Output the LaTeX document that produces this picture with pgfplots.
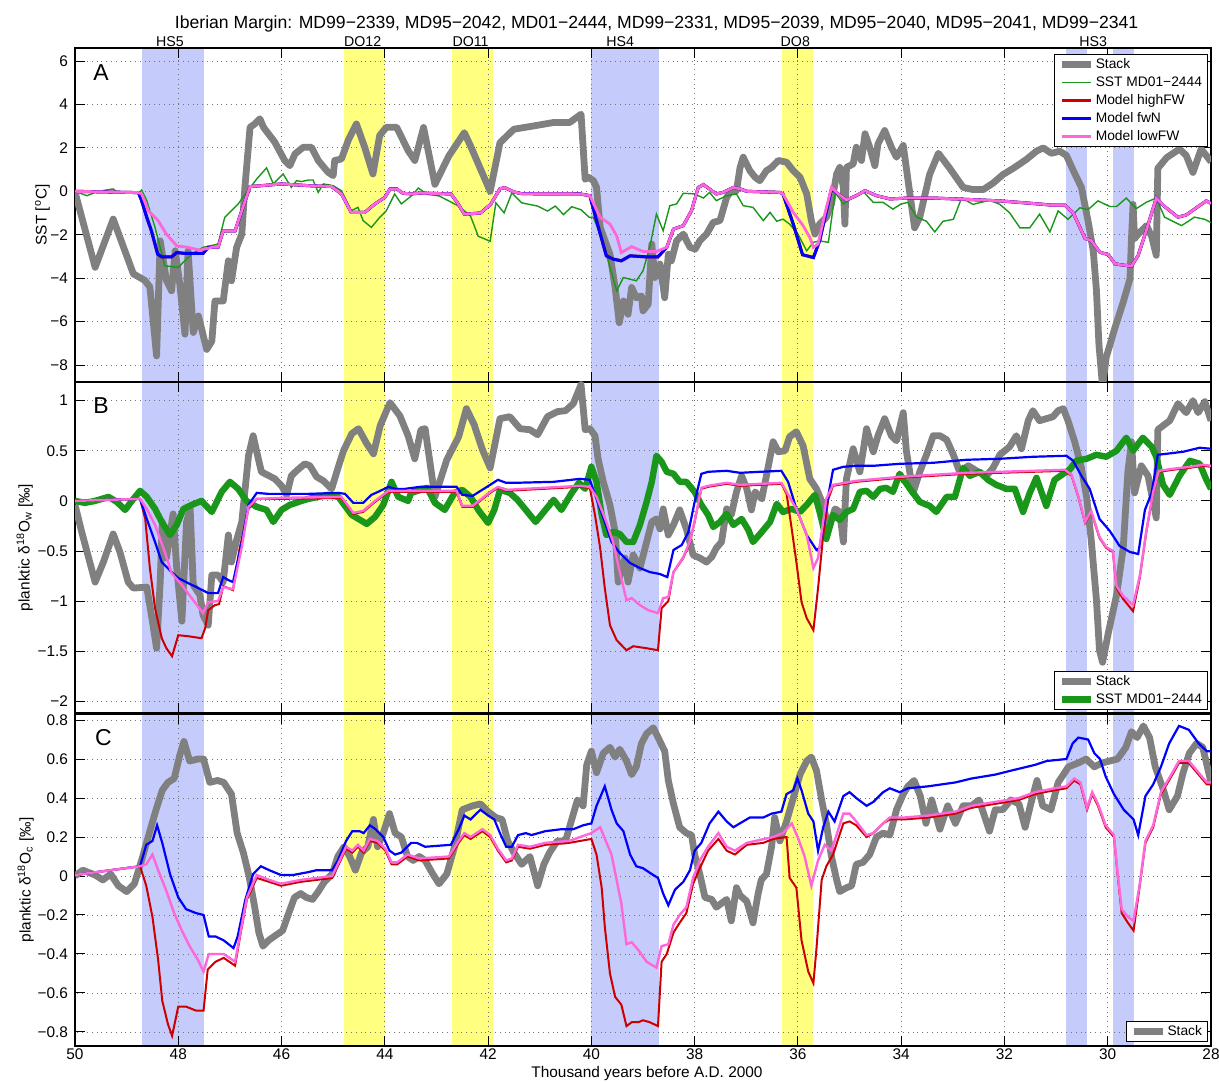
\documentclass[border=0pt]{standalone}
\usepackage{fontspec}
\setmainfont{Liberation Sans}
\usepackage{pgfplots}
\pgfplotsset{compat=1.18}
\definecolor{stk}{RGB}{128,128,128}
\definecolor{sstg}{RGB}{26,150,26}
\definecolor{mred}{RGB}{204,0,0}
\definecolor{mblue}{RGB}{0,0,255}
\definecolor{mpink}{RGB}{255,102,217}
\definecolor{bandblue}{RGB}{197,203,250}
\definecolor{bandyel}{RGB}{255,255,128}
\pgfplotsset{
 set layers,
 panel/.style={
  scale only axis, width=568pt,
  x dir=reverse, xmin=28, xmax=50,
  xtick={28,30,32,34,36,38,40,42,44,46,48,50},
  grid=major,
  major grid style={dotted, black!55, line width=0.45pt},
  tick align=inside, major tick length=5pt,
  tick style={black, line width=0.5pt},
  axis line style={black, line width=0.6pt},
  tick label style={font=\fontsize{7.7}{9}\selectfont},
  xticklabel style={inner sep=1.2pt},
  clip mode=individual,
  legend cell align=left,
  legend image code/.code={\draw[##1] (0pt,0pt) -- (14.5pt,0pt);},
  legend style={font=\fontsize{6.9}{8}\selectfont, draw=black, line width=0.5pt, fill=white,
    inner xsep=2pt, inner ysep=1pt, row sep=1pt,
    nodes={inner sep=0.6pt, text height=5.2pt, text depth=1.6pt}},
 },
}
\newcommand{\bands}[2]{%
 \addplot[fill=bandblue, draw=none, forget plot, on layer=axis background] coordinates {(48.7,#1) (47.5,#1) (47.5,#2) (48.7,#2)};
 \addplot[fill=bandyel, draw=none, forget plot, on layer=axis background] coordinates {(44.8,#1) (44.0,#1) (44.0,#2) (44.8,#2)};
 \addplot[fill=bandyel, draw=none, forget plot, on layer=axis background] coordinates {(42.7,#1) (41.9,#1) (41.9,#2) (42.7,#2)};
 \addplot[fill=bandblue, draw=none, forget plot, on layer=axis background] coordinates {(40.0,#1) (38.7,#1) (38.7,#2) (40.0,#2)};
 \addplot[fill=bandyel, draw=none, forget plot, on layer=axis background] coordinates {(36.3,#1) (35.7,#1) (35.7,#2) (36.3,#2)};
 \addplot[fill=bandblue, draw=none, forget plot, on layer=axis background] coordinates {(30.8,#1) (30.4,#1) (30.4,#2) (30.8,#2)};
 \addplot[fill=bandblue, draw=none, forget plot, on layer=axis background] coordinates {(29.9,#1) (29.5,#1) (29.5,#2) (29.9,#2)};
}
\begin{document}
\begin{tikzpicture}
% ================= Panel A =================
\begin{axis}[panel, at={(37.5pt,349.5pt)}, anchor=south west, height=167pt,
  ymin=-8.78, ymax=6.6,
  ytick={-8,-6,-4,-2,0,2,4,6}, yticklabels={−8,−6,−4,−2,0,2,4,6},
  xticklabels={},
  ylabel={SST [\textsuperscript{o}C]},
  ylabel style={at={(axis description cs:-0.0286,0.5)}, anchor=center, font=\fontsize{7.7}{9}\selectfont},
  legend style={at={(axis description cs:1,1)}, anchor=north east, xshift=-1.65pt, yshift=-3.1pt},
]
\bands{-10}{8}
\addplot[stk, line width=3.4pt, line join=round] coordinates {
(50,0) (49.97,-0.3) (49.61,-3.5) (49.26,-1.28) (48.87,-3.8) (48.65,-4.1) (48.55,-4.4) (48.42,-7.58) (48.35,-2.28) (48.23,-4.1) (48.13,-4.58) (48.06,-2.74) (47.97,-4.28) (47.87,-6.58) (47.81,-2.74) (47.71,-6.5) (47.61,-5.74) (47.45,-7.28) (47.35,-6.9) (47.29,-5.05) (47.13,-5.05) (47.03,-3.2) (46.97,-4.12) (46.87,-2.58) (46.77,-1.97) (46.71,0.18) (46.61,2.95) (46.52,3.1) (46.42,3.34) (46.35,2.95) (46.13,2.26) (45.94,1.42) (45.84,1.18) (45.74,1.72) (45.58,2.03) (45.42,2.03) (45.29,1.42) (45.1,0.88) (45.0,0.72) (44.97,1.42) (44.84,1.49) (44.71,2.34) (44.55,3.1) (44.39,2.03) (44.23,0.8) (44.1,2.57) (43.97,2.95) (43.77,2.95) (43.55,1.88) (43.42,1.42) (43.35,2.03) (43.25,2.94) (43.03,0.32) (42.76,1.63) (42.46,2.7) (42.34,2.09) (41.96,0.0) (41.77,2.24) (41.5,2.86) (41.12,3.01) (40.73,3.17) (40.42,3.17) (40.2,3.55) (40.12,0.55) (40.06,0.65) (39.96,0.49) (39.9,0.18) (39.83,-1.66) (39.64,-2.9) (39.54,-4.43) (39.46,-6.05) (39.38,-5.05) (39.29,-5.66) (39.22,-4.43) (39.13,-4.9) (39.03,-4.82) (39.0,-5.5) (38.9,-5.2) (38.83,-2.43) (38.77,-3.97) (38.67,-3.35) (38.58,-4.9) (38.51,-2.9) (38.45,-3.2) (38.35,-2.28) (38.22,-1.97) (38.09,-2.58) (37.99,-2.66) (37.9,-2.28) (37.77,-1.97) (37.64,-1.43) (37.51,-1.35) (37.38,-0.28) (37.29,0.03) (37.19,0.03) (37.12,1.1) (37.06,1.57) (36.93,0.95) (36.83,0.65) (36.74,0.49) (36.61,0.95) (36.51,1.1) (36.38,1.42) (36.22,1.34) (36.09,0.95) (35.96,0.65) (35.83,-0.12) (35.74,-1.35) (35.67,-1.97) (35.58,-1.51) (35.45,-1.2) (35.35,-0.58) (35.25,0.8) (35.19,1.1) (35.12,0.18) (35.09,-1.51) (35.06,1.1) (34.93,1.26) (34.87,2.03) (34.77,1.42) (34.7,2.65) (34.61,2.03) (34.51,1.18) (34.45,2.18) (34.32,2.8) (34.19,2.03) (34.09,1.57) (33.96,2.11) (33.85,0.2) (33.74,-1.68) (33.64,-1.19) (33.45,0.77) (33.28,1.75) (33.06,1.06) (32.8,0.18) (32.61,0.08) (32.41,0.08) (32.22,0.38) (32.03,0.77) (31.83,1.06) (31.58,1.46) (31.38,1.85) (31.25,2.0) (31.09,1.75) (30.93,1.85) (30.8,1.65) (30.67,0.97) (30.51,0.18) (30.38,-1.38) (30.28,-2.76) (30.22,-4.52) (30.17,-7.07) (30.1,-9.0) (30.03,-7.65) (29.86,-6.28) (29.7,-5.1) (29.57,-4.03) (29.54,-2.17) (29.51,-0.6) (29.48,-2.17) (29.41,-1.97) (29.25,-1.58) (29.15,-2.07) (29.06,-2.95) (29.03,1.06) (28.86,1.55) (28.61,1.95) (28.48,1.65) (28.35,0.87) (28.19,1.95) (28.0,1.36)
};
\addlegendentry{Stack}
\addplot[sstg, line width=0.7pt] coordinates {
(50,0) (49.77,-0.2) (49.55,0) (49.26,0.11) (49.16,-0.08) (48.77,-0.09) (48.71,0.06) (48.61,-0.43) (48.45,-1.66) (48.26,-3.43) (48.0,-3.5) (47.74,-2.89) (47.52,-2.58) (47.23,-2.43) (47.1,-1.2) (46.84,-0.58) (46.65,0.03) (46.48,0.57) (46.29,1.08) (46.16,0.34) (45.97,0.8) (45.81,0.18) (45.71,0.49) (45.61,0.45) (45.48,0.52) (45.39,0.52) (45.29,-0.05) (45.19,0.34) (45.0,0.26) (44.84,0.03) (44.65,-0.89) (44.52,-0.74) (44.42,-1.35) (44.26,-1.66) (44.1,-1.2) (43.97,-0.89) (43.81,-0.12) (43.68,-0.58) (43.48,-0.2) (43.35,0.15) (43.18,-0.14) (42.95,-0.21) (42.69,-0.53) (42.57,-0.68) (42.34,-1.14) (42.19,-2.07) (41.96,-2.3) (41.85,-0.53) (41.69,-0.99) (41.54,-0.07) (41.35,-0.53) (41.04,-0.68) (40.85,-0.91) (40.7,-0.68) (40.54,-1.07) (40.38,-0.71) (40.2,-0.85) (40.04,-1.2) (39.96,-1.2) (39.83,-1.97) (39.71,-2.89) (39.51,-4.58) (39.38,-3.97) (39.13,-4.12) (39.0,-3.66) (38.87,-2.58) (38.74,-1.05) (38.61,-1.82) (38.48,-0.66) (38.35,-0.58) (38.22,-0.09) (38.0,-0.12) (37.83,-0.31) (37.71,-0.05) (37.58,-0.43) (37.38,-0.2) (37.19,-0.12) (37.06,-0.66) (36.87,-0.74) (36.67,-1.35) (36.54,-0.97) (36.41,-1.38) (36.29,-1.28) (36.16,-1.51) (36.0,-1.97) (35.83,-2.74) (35.7,-2.35) (35.58,-2.28) (35.41,-2.35) (35.28,-0.05) (35.12,-0.58) (34.93,-0.28) (34.74,0.0) (34.54,-0.51) (34.35,-0.51) (34.16,-0.82) (34.0,-0.58) (33.87,-0.51) (33.7,-1.19) (33.51,-1.38) (33.35,-1.87) (33.19,-1.38) (32.99,-1.29) (32.83,-0.31) (32.61,-0.6) (32.28,-0.41) (32.09,-0.6) (31.9,-0.99) (31.7,-1.68) (31.51,-1.68) (31.32,-1.05) (31.12,-1.87) (30.96,-0.9) (30.77,-1.29) (30.54,-0.76) (30.38,-0.84) (30.19,-0.44) (29.96,-0.7) (29.83,-0.7) (29.64,-0.31) (29.45,-0.8) (29.25,-0.5) (29.06,-0.31) (28.9,-1.19) (28.57,-1.58) (28.32,-1.19) (28.12,-1.29) (28.0,-1.44)
};
\addlegendentry{SST MD01−2444}
\addplot[mred, line width=1.5pt] coordinates {
(50,0) (48.77,-0.06) (48.71,-0.43) (48.61,-1.2) (48.52,-1.82) (48.4,-2.89) (48.32,-3.02) (48.13,-3.02) (48.03,-2.82) (47.87,-2.86) (47.52,-2.86) (47.42,-2.58) (47.23,-2.58) (47.13,-1.82) (46.9,-1.82) (46.77,-0.89) (46.61,0.22) (46.39,0.26) (46.0,0.34) (45.48,0.26) (45.03,0.22) (44.84,-0.12) (44.65,-0.97) (44.39,-0.97) (44.19,-0.58) (44.0,-0.28) (43.9,0.11) (43.77,0.11) (43.65,-0.09) (43.48,-0.12) (43.32,-0.08) (42.72,-0.12) (42.6,-0.5) (42.46,-1.05) (42.15,-1.0) (41.95,-0.6) (41.85,-0.2) (41.77,0.12) (41.68,0.17) (41.5,-0.03) (41.35,-0.11) (40.22,-0.12) (40.03,-0.2) (39.9,-1.35) (39.71,-2.97) (39.58,-3.12) (39.42,-3.2) (39.25,-2.97) (38.93,-3.02) (38.71,-3.02) (38.54,-2.58) (38.41,-1.74) (38.22,-1.58) (38.06,-0.89) (37.93,0.18) (37.83,0.31) (37.58,-0.12) (37.45,-0.05) (37.25,0.18) (37.12,0.11) (36.99,0) (36.35,-0.05) (36.29,-0.12) (36.09,-1.51) (35.91,-2.92) (35.7,-3.05) (35.58,-2.28) (35.35,0.11) (35.22,-0.12) (35.06,-0.4) (34.87,-0.2) (34.7,0.03) (34.48,-0.2) (34.22,-0.35) (33.87,-0.31) (33.38,-0.31) (32.74,-0.37) (32.09,-0.44) (31.45,-0.56) (31.06,-0.64) (30.83,-0.64) (30.67,-0.99) (30.44,-2.17) (30.32,-2.27) (30.15,-2.81) (29.99,-2.91) (29.86,-3.34) (29.7,-3.4) (29.54,-3.44) (29.41,-2.95) (29.25,-1.78) (29.06,-0.31) (28.9,-0.7) (28.64,-1.19) (28.48,-1.09) (28.25,-0.7) (28.09,-0.44) (28.0,-0.56)
};
\addlegendentry{Model highFW}
\addplot[mblue, line width=1.5pt] coordinates {
(50,0) (48.77,-0.06) (48.71,-0.43) (48.61,-1.2) (48.52,-1.82) (48.4,-2.89) (48.32,-3.02) (48.13,-3.02) (48.03,-2.82) (47.87,-2.86) (47.52,-2.86) (47.42,-2.58) (47.23,-2.58) (47.13,-1.82) (46.9,-1.82) (46.77,-0.89) (46.61,0.22) (46.39,0.26) (46.0,0.34) (45.48,0.26) (45.03,0.22) (44.84,-0.12) (44.65,-0.97) (44.39,-0.97) (44.19,-0.58) (44.0,-0.28) (43.9,0.11) (43.77,0.11) (43.65,-0.09) (43.48,-0.12) (43.32,-0.08) (42.72,-0.12) (42.6,-0.5) (42.46,-1.05) (42.15,-1.0) (41.95,-0.6) (41.85,-0.2) (41.77,0.12) (41.68,0.17) (41.5,-0.03) (41.35,-0.11) (40.22,-0.12) (40.03,-0.2) (39.9,-1.35) (39.71,-2.97) (39.58,-3.12) (39.42,-3.2) (39.25,-2.97) (38.93,-3.02) (38.71,-3.02) (38.54,-2.58) (38.41,-1.74) (38.22,-1.58) (38.06,-0.89) (37.93,0.18) (37.83,0.31) (37.58,-0.12) (37.45,-0.05) (37.25,0.18) (37.12,0.11) (36.99,0) (36.35,-0.05) (36.29,-0.12) (36.09,-1.51) (35.91,-2.92) (35.7,-3.05) (35.58,-2.28) (35.35,0.11) (35.22,-0.12) (35.06,-0.4) (34.87,-0.2) (34.7,0.03) (34.48,-0.2) (34.22,-0.35) (33.87,-0.31) (33.38,-0.31) (32.74,-0.37) (32.09,-0.44) (31.45,-0.56) (31.06,-0.64) (30.83,-0.64) (30.67,-0.99) (30.44,-2.17) (30.32,-2.27) (30.15,-2.81) (29.99,-2.91) (29.86,-3.34) (29.7,-3.4) (29.54,-3.44) (29.41,-2.95) (29.25,-1.78) (29.06,-0.31) (28.9,-0.7) (28.64,-1.19) (28.48,-1.09) (28.25,-0.7) (28.09,-0.44) (28.0,-0.56)
};
\addlegendentry{Model fwN}
\addplot[mpink, line width=1.4pt] coordinates {
(50,0) (48.77,-0.06) (48.71,-0.12) (48.58,-0.89) (48.39,-1.35) (48.23,-1.97) (48.03,-2.51) (47.81,-2.58) (47.58,-2.71) (47.35,-2.58) (47.23,-2.58) (47.13,-1.82) (46.9,-1.82) (46.77,-0.89) (46.61,0.22) (46.39,0.26) (46.0,0.34) (45.48,0.26) (45.03,0.22) (44.84,-0.12) (44.65,-0.97) (44.39,-0.97) (44.19,-0.58) (44.0,-0.28) (43.9,0.11) (43.77,0.11) (43.65,-0.09) (43.48,-0.12) (43.32,-0.08) (42.72,-0.12) (42.6,-0.5) (42.46,-1.05) (42.15,-1.0) (41.95,-0.6) (41.85,-0.2) (41.77,0.12) (41.68,0.17) (41.5,-0.03) (41.35,-0.11) (40.22,-0.12) (40.03,-0.2) (39.83,-1.2) (39.64,-1.51) (39.51,-2.05) (39.42,-2.82) (39.22,-2.55) (39.0,-2.77) (38.74,-2.77) (38.54,-2.58) (38.41,-1.74) (38.22,-1.58) (38.06,-0.89) (37.93,0.18) (37.83,0.31) (37.58,-0.12) (37.45,-0.05) (37.25,0.18) (37.12,0.11) (36.99,0) (36.35,-0.05) (36.29,-0.12) (36.09,-0.97) (35.9,-1.58) (35.77,-2.12) (35.7,-2.58) (35.61,-2.43) (35.48,-1.05) (35.35,0.18) (35.22,-0.12) (35.06,-0.4) (34.87,-0.2) (34.7,0.03) (34.48,-0.2) (34.22,-0.35) (33.87,-0.31) (33.38,-0.31) (32.74,-0.37) (32.09,-0.44) (31.45,-0.56) (31.06,-0.64) (30.83,-0.64) (30.67,-0.99) (30.44,-2.17) (30.32,-2.27) (30.15,-2.81) (29.99,-2.91) (29.86,-3.34) (29.7,-3.4) (29.54,-3.44) (29.41,-2.95) (29.25,-1.78) (29.06,-0.31) (28.9,-0.7) (28.64,-1.19) (28.48,-1.09) (28.25,-0.7) (28.09,-0.44) (28.0,-0.56)
};
\addlegendentry{Model lowFW}
\node[font=\fontsize{11.5}{12}\selectfont] at (axis description cs:0.023,0.925) {A};
\node[font=\fontsize{7.1}{8}\selectfont, anchor=base, yshift=0.9pt] at (axis cs:48.16,6.6) {HS5};
\node[font=\fontsize{7.1}{8}\selectfont, anchor=base, yshift=0.9pt] at (axis cs:44.43,6.6) {DO12};
\node[font=\fontsize{7.1}{8}\selectfont, anchor=base, yshift=0.9pt] at (axis cs:42.34,6.6) {DO11};
\node[font=\fontsize{7.1}{8}\selectfont, anchor=base, yshift=0.9pt] at (axis cs:39.44,6.6) {HS4};
\node[font=\fontsize{7.1}{8}\selectfont, anchor=base, yshift=0.9pt] at (axis cs:36.05,6.6) {DO8};
\node[font=\fontsize{7.1}{8}\selectfont, anchor=base, yshift=0.9pt] at (axis cs:30.28,6.6) {HS3};
\node[font=\fontsize{8.8}{10}\selectfont, anchor=base, yshift=9.75pt] at (axis description cs:0.512,1) {Iberian Margin: MD99−2339, MD95−2042, MD01−2444, MD99−2331, MD95−2039, MD95−2040, MD95−2041, MD99−2341};
\end{axis}
% ================= Panel B =================
\begin{axis}[panel, at={(37.5pt,184pt)}, anchor=south west, height=165.5pt,
  ymin=-2.116, ymax=1.186,
  ytick={-2,-1.5,-1,-0.5,0,0.5,1}, yticklabels={−2,−1.5,−1,−0.5,0,0.5,1},
  xticklabels={},
  ylabel={planktic δ\textsuperscript{18}O\textsubscript{w} [‰]},
  ylabel style={at={(axis description cs:-0.0443,0.5)}, anchor=center, font=\fontsize{7.7}{9}\selectfont},
  legend style={at={(axis description cs:1,0)}, anchor=south east, xshift=-1.65pt, yshift=1.5pt},
]
\bands{-3}{2}
\addplot[stk, line width=3.4pt, line join=round] coordinates {
(50,-0.04) (49.87,-0.31) (49.61,-0.81) (49.45,-0.61) (49.26,-0.33) (49.13,-0.51) (48.97,-0.81) (48.87,-0.87) (48.61,-0.86) (48.52,-1.14) (48.42,-1.47) (48.35,-0.81) (48.31,-0.21) (48.23,-0.57) (48.1,-0.13) (48.03,-0.67) (47.93,-1.2) (47.84,-0.21) (47.77,-0.08) (47.71,-0.84) (47.58,-0.94) (47.52,-1.14) (47.42,-1.24) (47.35,-0.74) (47.23,-0.74) (47.13,-0.81) (47.03,-0.34) (46.97,-0.61) (46.87,-0.39) (46.77,-0.21) (46.64,0.45) (46.55,0.65) (46.45,0.42) (46.39,0.29) (46.13,0.22) (46.0,0.15) (45.9,0.06) (45.81,0.25) (45.71,0.3) (45.55,0.37) (45.45,0.35) (45.32,0.24) (45.19,0.2) (45.03,0.12) (44.9,0.34) (44.8,0.5) (44.64,0.67) (44.51,0.72) (44.35,0.57) (44.22,0.47) (44.09,0.75) (43.9,0.98) (43.71,0.85) (43.55,0.65) (43.42,0.42) (43.3,0.71) (43.22,0.72) (43.03,0.04) (42.8,0.41) (42.57,0.64) (42.42,0.92) (42.27,0.76) (42.11,0.51) (41.96,0.33) (41.77,0.82) (41.58,0.84) (41.38,0.72) (41.19,0.71) (41.04,0.66) (40.85,0.84) (40.66,0.89) (40.5,0.9) (40.35,0.97) (40.2,1.16) (40.12,0.71) (40.03,0.72) (39.93,0.65) (39.87,0.42) (39.77,0.19) (39.64,-0.04) (39.54,-0.31) (39.48,-0.81) (39.35,-0.57) (39.29,-0.81) (39.19,-0.54) (39.06,-0.67) (38.93,-0.41) (38.83,-0.21) (38.74,-0.18) (38.67,-0.28) (38.61,-0.08) (38.51,-0.34) (38.41,-0.24) (38.29,-0.09) (38.16,-0.28) (38.03,-0.54) (37.9,-0.57) (37.77,-0.61) (37.67,-0.56) (37.58,-0.47) (37.48,-0.41) (37.38,-0.08) (37.29,-0.14) (37.19,0.09) (37.09,0.25) (36.99,0.12) (36.9,-0.09) (36.83,0.09) (36.7,0.02) (36.61,0.25) (36.48,0.59) (36.38,0.49) (36.25,0.5) (36.16,0.64) (36.03,0.69) (35.9,0.55) (35.77,0.22) (35.64,0.12) (35.51,-0.04) (35.41,-0.28) (35.28,-0.08) (35.19,-0.11) (35.12,-0.41) (35.06,0.22) (34.93,0.52) (34.8,0.29) (34.67,0.72) (34.54,0.49) (34.45,0.65) (34.32,0.82) (34.19,0.65) (34.09,0.6) (33.96,0.88) (33.9,0.5) (33.77,0.08) (33.64,0.29) (33.51,0.46) (33.38,0.65) (33.25,0.65) (33.12,0.61) (32.99,0.46) (32.87,0.29) (32.7,0.35) (32.51,0.29) (32.35,0.25) (32.22,0.33) (32.09,0.46) (31.9,0.54) (31.77,0.65) (31.67,0.52) (31.54,0.8) (31.45,0.9) (31.32,0.8) (31.19,0.82) (31.06,0.84) (30.96,0.9) (30.86,0.92) (30.77,0.8) (30.64,0.59) (30.51,0.33) (30.41,0.04) (30.32,-0.39) (30.22,-0.98) (30.16,-1.49) (30.1,-1.61) (29.99,-1.32) (29.83,-0.94) (29.7,-0.47) (29.61,0.29) (29.54,0.59) (29.48,0.08) (29.35,0.35) (29.22,0.25) (29.06,-0.17) (29.03,0.71) (28.93,0.75) (28.8,0.8) (28.64,0.97) (28.48,0.88) (28.35,1.0) (28.25,0.88) (28.12,0.99) (28.0,0.8)
};
\addlegendentry{Stack}
\addplot[sstg, line width=3.2pt, line join=round] coordinates {
(50,0) (49.81,-0.02) (49.61,0.0) (49.35,0.04) (49.19,-0.01) (49.03,-0.09) (48.9,0.0) (48.74,0.1) (48.61,0.04) (48.45,-0.08) (48.32,-0.21) (48.16,-0.34) (48.03,-0.24) (47.9,-0.08) (47.74,-0.04) (47.55,0.0) (47.35,-0.11) (47.16,0.09) (47.0,0.19) (46.84,0.12) (46.68,0.0) (46.48,-0.06) (46.29,-0.09) (46.16,-0.21) (46.0,-0.09) (45.84,-0.04) (45.61,0.0) (45.48,0.02) (45.29,0.04) (45.1,0.06) (44.9,0.04) (44.8,-0.03) (44.64,-0.14) (44.51,-0.18) (44.35,-0.23) (44.19,-0.16) (44.03,-0.04) (43.87,0.19) (43.74,0.04) (43.55,0.0) (43.49,0.08) (43.18,0.13) (43.03,-0.02) (42.84,-0.09) (42.65,0.08) (42.5,0.11) (42.34,0.04) (42.19,-0.09) (42.0,-0.22) (41.88,-0.09) (41.77,0.11) (41.58,0.08) (41.43,0.01) (41.27,-0.09) (41.08,-0.21) (40.89,-0.09) (40.73,0.01) (40.58,-0.09) (40.38,0.08) (40.24,0.18) (40.12,0.12) (40.0,0.34) (39.9,0.19) (39.8,-0.14) (39.71,-0.34) (39.58,-0.31) (39.45,-0.33) (39.32,-0.41) (39.19,-0.41) (39.06,-0.24) (38.93,-0.01) (38.83,0.19) (38.74,0.45) (38.64,0.39) (38.54,0.29) (38.41,0.27) (38.29,0.19) (38.16,0.19) (38.0,0.09) (37.87,-0.04) (37.74,-0.14) (37.64,-0.26) (37.51,-0.21) (37.38,-0.13) (37.25,-0.24) (37.09,-0.18) (36.96,-0.29) (36.87,-0.41) (36.7,-0.31) (36.54,-0.21) (36.41,-0.03) (36.29,-0.11) (36.12,-0.08) (35.96,-0.11) (35.83,-0.04) (35.67,0.06) (35.58,-0.11) (35.45,-0.38) (35.32,-0.14) (35.19,-0.19) (35.06,-0.11) (34.93,-0.08) (34.8,0.09) (34.67,0.1) (34.54,0.04) (34.41,0.12) (34.29,0.13) (34.16,0.09) (34.03,0.27) (33.83,0.12) (33.64,-0.01) (33.45,-0.05) (33.32,-0.11) (33.12,0.04) (32.96,0.04) (32.8,0.33) (32.67,0.25) (32.48,0.29) (32.32,0.21) (32.16,0.16) (31.96,0.12) (31.8,0.12) (31.64,-0.11) (31.51,0.08) (31.38,0.23) (31.19,-0.05) (31.03,0.21) (30.86,0.27) (30.74,0.31) (30.61,0.4) (30.41,0.42) (30.22,0.46) (30.03,0.44) (29.83,0.5) (29.64,0.63) (29.51,0.5) (29.32,0.63) (29.15,0.54) (29.06,0.44) (28.93,0.16) (28.8,0.06) (28.61,0.25) (28.41,0.4) (28.22,0.37) (28.09,0.21) (28.0,0.12)
};
\addlegendentry{SST MD01−2444}
\addplot[mred, line width=1pt, forget plot] coordinates {
(50,0) (48.74,0.02) (48.64,-0.18) (48.55,-0.67) (48.45,-1.07) (48.32,-1.37) (48.23,-1.47) (48.12,-1.55) (48.0,-1.34) (47.81,-1.35) (47.55,-1.37) (47.48,-1.27) (47.42,-1.09) (47.29,-1.04) (47.21,-1.03) (47.13,-0.85) (46.94,-0.89) (46.81,-0.47) (46.64,-0.08) (46.48,0.02) (46.0,0.02) (44.84,0.03) (44.61,-0.13) (44.42,-0.11) (44.19,-0.01) (43.93,0.09) (42.61,0.09) (42.5,-0.06) (42.3,-0.06) (41.96,0.08) (41.81,0.13) (41.65,0.1) (40.22,0.14) (40.03,0.13) (39.93,-0.14) (39.83,-0.47) (39.74,-0.87) (39.64,-1.24) (39.51,-1.39) (39.32,-1.49) (39.19,-1.45) (38.93,-1.47) (38.71,-1.49) (38.64,-1.07) (38.51,-1.0) (38.41,-0.71) (38.22,-0.57) (38.09,-0.41) (38.0,-0.21) (37.87,0.12) (37.74,0.14) (37.38,0.17) (37.12,0.15) (36.74,0.16) (36.32,0.17) (36.22,0.07) (36.12,-0.28) (36.03,-0.61) (35.93,-1.01) (35.83,-1.17) (35.7,-1.29) (35.61,-0.87) (35.51,-0.34) (35.41,0.02) (35.32,0.15) (34.87,0.19) (34.03,0.23) (33.38,0.25) (32.74,0.27) (32.09,0.28) (31.45,0.29) (30.83,0.3) (30.7,0.25) (30.57,0.04) (30.44,-0.22) (30.32,-0.11) (30.16,-0.37) (30.03,-0.47) (29.9,-0.51) (29.83,-0.87) (29.7,-0.98) (29.51,-1.1) (29.38,-0.77) (29.25,-0.3) (29.12,0.08) (29.01,0.29) (28.74,0.31) (28.41,0.33) (28.15,0.35) (28.0,0.34)
};
\addplot[mblue, line width=1.1pt, forget plot] coordinates {
(50,0) (48.74,0.02) (48.61,-0.18) (48.45,-0.41) (48.32,-0.61) (48.13,-0.71) (48.0,-0.77) (47.81,-0.82) (47.61,-0.87) (47.42,-0.92) (47.23,-0.92) (47.13,-0.76) (47.03,-0.79) (46.94,-0.81) (46.77,-0.41) (46.64,-0.04) (46.48,0.08) (46.26,0.07) (45.48,0.07) (44.9,0.08) (44.77,0.07) (44.61,-0.02) (44.42,-0.02) (44.26,0.06) (44.13,0.09) (43.93,0.14) (43.8,0.12) (43.61,0.12) (43.32,0.14) (42.61,0.14) (42.5,0.06) (42.3,0.05) (41.96,0.16) (41.81,0.21) (41.65,0.18) (41.5,0.18) (40.73,0.19) (40.22,0.22) (40.03,0.21) (39.9,0.02) (39.74,-0.21) (39.61,-0.41) (39.45,-0.52) (39.25,-0.62) (39.06,-0.67) (38.87,-0.71) (38.67,-0.73) (38.53,-0.76) (38.41,-0.49) (38.25,-0.44) (38.12,-0.31) (38.0,-0.01) (37.87,0.27) (37.74,0.29) (37.38,0.3) (37.12,0.28) (36.74,0.29) (36.32,0.3) (36.19,0.19) (36.03,-0.08) (35.83,-0.34) (35.64,-0.49) (35.58,-0.47) (35.48,-0.14) (35.32,0.31) (35.12,0.34) (34.87,0.35) (34.54,0.35) (34.03,0.37) (33.38,0.38) (32.74,0.41) (32.09,0.42) (31.45,0.44) (30.8,0.45) (30.67,0.4) (30.51,0.25) (30.35,0.12) (30.16,-0.18) (29.96,-0.3) (29.77,-0.45) (29.57,-0.51) (29.41,-0.53) (29.28,-0.09) (29.15,0.08) (29.03,0.46) (28.86,0.47) (28.54,0.49) (28.22,0.53) (28.0,0.52)
};
\addplot[mpink, line width=1.2pt, forget plot] coordinates {
(50,0) (48.74,0.02) (48.61,-0.08) (48.45,-0.24) (48.26,-0.51) (48.13,-0.72) (47.93,-0.84) (47.74,-0.97) (47.52,-1.12) (47.42,-1.01) (47.23,-1.0) (47.13,-0.86) (46.94,-0.88) (46.77,-0.46) (46.64,-0.06) (46.48,0.02) (46.0,0.03) (44.84,0.04) (44.61,-0.12) (44.42,-0.1) (44.19,0.0) (43.93,0.1) (42.61,0.1) (42.5,-0.05) (42.3,-0.05) (41.96,0.09) (41.81,0.14) (41.65,0.11) (40.22,0.15) (40.03,0.14) (39.9,0.04) (39.71,-0.21) (39.58,-0.41) (39.45,-0.71) (39.32,-0.99) (39.22,-0.97) (39.06,-1.04) (38.9,-1.09) (38.71,-1.12) (38.61,-0.97) (38.51,-0.96) (38.41,-0.71) (38.22,-0.56) (38.09,-0.4) (38.0,-0.2) (37.87,0.13) (37.74,0.15) (37.38,0.18) (37.12,0.16) (36.74,0.17) (36.32,0.18) (36.22,0.09) (36.03,-0.08) (35.83,-0.34) (35.7,-0.67) (35.61,-0.57) (35.45,0.02) (35.32,0.16) (34.87,0.2) (34.03,0.24) (33.38,0.26) (32.74,0.28) (32.09,0.29) (31.45,0.3) (30.83,0.31) (30.7,0.26) (30.57,0.05) (30.44,-0.21) (30.32,-0.1) (30.16,-0.36) (30.03,-0.46) (29.9,-0.5) (29.83,-0.85) (29.7,-0.95) (29.51,-1.04) (29.38,-0.75) (29.25,-0.29) (29.12,0.09) (29.01,0.3) (28.74,0.32) (28.41,0.34) (28.15,0.36) (28.0,0.35)
};
\node[font=\fontsize{11.5}{12}\selectfont] at (axis description cs:0.023,0.93) {B};
\end{axis}
% ================= Panel C =================
\begin{axis}[panel, at={(37.5pt,17.5pt)}, anchor=south west, height=166pt,
  ymin=-0.872, ymax=0.831,
  ytick={-0.8,-0.6,-0.4,-0.2,0,0.2,0.4,0.6,0.8}, yticklabels={−0.8,−0.6,−0.4,−0.2,0,0.2,0.4,0.6,0.8},
  xticklabels={28,30,32,34,36,38,40,42,44,46,48,50},
  xlabel={Thousand years before A.D. 2000},
  xlabel style={at={(axis description cs:0.5035,0)}, anchor=base, yshift=-15.6pt, font=\fontsize{7.7}{9}\selectfont},
  ylabel={planktic δ\textsuperscript{18}O\textsubscript{c} [‰]},
  ylabel style={at={(axis description cs:-0.0434,0.5)}, anchor=center, font=\fontsize{7.7}{9}\selectfont},
  legend style={at={(axis description cs:1,0)}, anchor=south east, xshift=-1.65pt, yshift=1.85pt},
]
\bands{-1}{1}
\addplot[stk, line width=3.4pt, line join=round] coordinates {
(50,0.0) (49.85,0.03) (49.61,0.005) (49.46,-0.02) (49.31,0.01) (49.16,-0.05) (49.0,-0.08) (48.85,-0.04) (48.7,0.09) (48.54,0.24) (48.43,0.34) (48.31,0.44) (48.2,0.48) (48.08,0.5) (47.97,0.62) (47.89,0.69) (47.78,0.59) (47.62,0.6) (47.51,0.6) (47.39,0.48) (47.24,0.49) (47.12,0.48) (46.97,0.42) (46.86,0.22) (46.74,0.12) (46.63,0.0) (46.52,-0.16) (46.44,-0.29) (46.36,-0.36) (46.25,-0.33) (46.09,-0.3) (45.98,-0.28) (45.86,-0.19) (45.75,-0.11) (45.63,-0.09) (45.52,-0.11) (45.4,-0.12) (45.29,-0.08) (45.17,-0.03) (45.02,0.01) (44.91,0.1) (44.79,0.15) (44.68,0.1) (44.57,0.03) (44.45,0.12) (44.33,0.15) (44.22,0.29) (44.14,0.15) (44.03,0.22) (43.91,0.32) (43.8,0.22) (43.68,0.2) (43.56,0.1) (43.45,0.08) (43.33,0.1) (43.22,0.08) (43.07,0.01) (42.95,-0.04) (42.8,0.01) (42.65,0.15) (42.5,0.34) (42.3,0.36) (42.15,0.37) (42.0,0.33) (41.85,0.3) (41.73,0.29) (41.62,0.18) (41.5,0.12) (41.35,0.06) (41.19,0.1) (41.04,-0.05) (40.92,0.06) (40.81,0.12) (40.66,0.18) (40.5,0.18) (40.38,0.29) (40.27,0.39) (40.16,0.36) (40.09,0.57) (40.0,0.64) (39.9,0.53) (39.77,0.63) (39.64,0.66) (39.54,0.61) (39.45,0.65) (39.32,0.59) (39.22,0.52) (39.13,0.56) (39.03,0.68) (38.93,0.73) (38.8,0.76) (38.67,0.69) (38.58,0.64) (38.51,0.49) (38.41,0.37) (38.29,0.25) (38.16,0.22) (38.06,0.21) (38.0,0.11) (37.9,0.01) (37.8,-0.11) (37.67,-0.12) (37.58,-0.16) (37.48,-0.14) (37.38,-0.12) (37.29,-0.23) (37.19,-0.06) (37.12,-0.1) (36.99,-0.13) (36.87,-0.24) (36.77,-0.09) (36.71,-0.02) (36.61,0.01) (36.51,0.15) (36.45,0.3) (36.35,0.18) (36.22,0.28) (36.09,0.4) (35.96,0.52) (35.83,0.59) (35.74,0.61) (35.64,0.54) (35.54,0.39) (35.45,0.27) (35.35,0.1) (35.25,-0.02) (35.19,-0.08) (35.06,-0.06) (34.96,-0.05) (34.87,0.06) (34.74,0.07) (34.61,0.11) (34.48,0.2) (34.35,0.22) (34.22,0.21) (34.09,0.34) (33.96,0.42) (33.87,0.46) (33.75,0.49) (33.63,0.41) (33.52,0.27) (33.41,0.39) (33.25,0.24) (33.1,0.36) (32.95,0.27) (32.8,0.36) (32.64,0.36) (32.49,0.39) (32.29,0.23) (32.18,0.34) (32.03,0.34) (31.88,0.39) (31.72,0.37) (31.6,0.25) (31.49,0.37) (31.37,0.49) (31.26,0.36) (31.1,0.34) (30.96,0.48) (30.76,0.56) (30.57,0.58) (30.42,0.6) (30.26,0.56) (30.11,0.58) (29.96,0.59) (29.81,0.6) (29.65,0.66) (29.54,0.74) (29.43,0.71) (29.31,0.77) (29.19,0.71) (29.08,0.56) (28.92,0.44) (28.81,0.34) (28.65,0.41) (28.54,0.53) (28.42,0.63) (28.28,0.68) (28.16,0.66) (28.0,0.48)
};
\addlegendentry{Stack}
\addplot[mred, line width=1pt, forget plot] coordinates {
(50,0.005) (48.74,0.05) (48.62,-0.05) (48.5,-0.21) (48.39,-0.43) (48.31,-0.64) (48.2,-0.76) (48.12,-0.82) (48.0,-0.67) (47.85,-0.67) (47.66,-0.69) (47.51,-0.69) (47.43,-0.48) (47.28,-0.44) (47.12,-0.42) (46.9,-0.46) (46.79,-0.29) (46.67,-0.12) (46.48,-0.01) (46.24,-0.03) (46.01,-0.05) (45.63,-0.03) (45.32,-0.02) (45.02,-0.01) (44.91,0.05) (44.75,0.14) (44.63,0.12) (44.52,0.15) (44.41,0.12) (44.29,0.18) (44.14,0.17) (43.99,0.13) (43.87,0.06) (43.76,0.06) (43.56,0.1) (43.33,0.08) (42.76,0.09) (42.57,0.17) (42.46,0.21) (42.34,0.19) (42.11,0.23) (41.96,0.2) (41.81,0.13) (41.65,0.07) (41.54,0.08) (41.42,0.15) (41.19,0.14) (40.89,0.16) (40.43,0.17) (40.0,0.19) (39.9,0.11) (39.8,-0.06) (39.74,-0.26) (39.64,-0.5) (39.54,-0.62) (39.42,-0.66) (39.32,-0.77) (39.22,-0.75) (39.09,-0.75) (39.0,-0.74) (38.87,-0.75) (38.71,-0.77) (38.64,-0.44) (38.54,-0.4) (38.41,-0.29) (38.29,-0.24) (38.16,-0.19) (38.03,-0.04) (37.9,0.04) (37.74,0.13) (37.54,0.19) (37.38,0.13) (37.22,0.11) (36.99,0.16) (36.67,0.17) (36.48,0.19) (36.22,0.2) (36.16,-0.01) (36.03,-0.06) (35.93,-0.33) (35.8,-0.49) (35.7,-0.55) (35.64,-0.37) (35.54,-0.02) (35.45,0.05) (35.32,0.11) (35.12,0.27) (35.0,0.28) (34.87,0.26) (34.67,0.2) (34.54,0.22) (34.35,0.27) (34.22,0.29) (34.03,0.29) (33.94,0.29) (33.48,0.3) (32.95,0.32) (32.64,0.35) (32.18,0.37) (31.72,0.39) (31.41,0.42) (31.03,0.44) (30.8,0.45) (30.65,0.49) (30.53,0.47) (30.4,0.34) (30.3,0.42) (30.19,0.36) (30.04,0.25) (29.88,0.2) (29.81,0.01) (29.73,-0.19) (29.61,-0.24) (29.5,-0.28) (29.38,-0.05) (29.27,0.17) (29.12,0.25) (28.97,0.42) (28.77,0.51) (28.62,0.58) (28.43,0.58) (28.24,0.52) (28.08,0.47) (28.0,0.47)
};
\addplot[mblue, line width=1.1pt, forget plot] coordinates {
(50,0.005) (49.31,0.03) (48.74,0.05) (48.62,0.16) (48.5,0.18) (48.41,0.26) (48.31,0.17) (48.16,0.01) (48.0,-0.11) (47.85,-0.17) (47.66,-0.19) (47.51,-0.2) (47.41,-0.31) (47.28,-0.31) (47.12,-0.33) (46.93,-0.37) (46.85,-0.31) (46.7,-0.12) (46.55,0.01) (46.4,0.05) (46.24,0.03) (46.01,0.005) (45.78,0.005) (45.48,0.02) (45.32,0.03) (45.02,0.03) (44.91,0.08) (44.75,0.18) (44.63,0.23) (44.49,0.23) (44.41,0.22) (44.29,0.26) (44.18,0.24) (44.03,0.2) (43.91,0.13) (43.8,0.11) (43.68,0.12) (43.49,0.17) (43.38,0.17) (43.22,0.15) (42.72,0.16) (42.57,0.24) (42.46,0.31) (42.34,0.29) (42.15,0.34) (42.0,0.31) (41.88,0.29) (41.77,0.22) (41.65,0.15) (41.54,0.15) (41.42,0.21) (41.27,0.22) (41.16,0.21) (40.89,0.23) (40.58,0.24) (40.35,0.24) (40.16,0.26) (40.0,0.27) (39.9,0.36) (39.74,0.46) (39.61,0.34) (39.51,0.27) (39.38,0.23) (39.25,0.11) (39.13,0.05) (39.0,0.04) (38.83,0.01) (38.71,-0.01) (38.61,-0.09) (38.51,-0.15) (38.38,-0.07) (38.22,-0.03) (38.09,0.03) (38.0,0.13) (37.87,0.17) (37.71,0.27) (37.54,0.33) (37.38,0.28) (37.25,0.25) (37.06,0.28) (36.93,0.3) (36.67,0.3) (36.51,0.32) (36.32,0.33) (36.22,0.42) (36.09,0.44) (36.01,0.5) (35.93,0.44) (35.8,0.32) (35.7,0.28) (35.61,0.13) (35.51,0.25) (35.41,0.33) (35.29,0.28) (35.12,0.41) (35.0,0.43) (34.87,0.4) (34.67,0.36) (34.54,0.38) (34.35,0.43) (34.22,0.45) (34.03,0.43) (33.87,0.45) (33.48,0.46) (32.95,0.48) (32.64,0.5) (32.18,0.52) (31.88,0.54) (31.41,0.57) (31.18,0.59) (30.8,0.6) (30.68,0.68) (30.57,0.71) (30.38,0.7) (30.26,0.63) (30.15,0.6) (30.04,0.51) (29.88,0.42) (29.69,0.34) (29.5,0.29) (29.41,0.21) (29.27,0.41) (29.12,0.47) (28.97,0.56) (28.81,0.68) (28.62,0.77) (28.43,0.75) (28.24,0.68) (28.08,0.64) (28.0,0.64)
};
\addplot[mpink, line width=1.2pt, forget plot] coordinates {
(50,0.005) (48.74,0.05) (48.62,0.06) (48.5,0.11) (48.39,0.03) (48.24,-0.07) (48.08,-0.19) (47.93,-0.28) (47.78,-0.36) (47.62,-0.43) (47.51,-0.49) (47.41,-0.4) (47.12,-0.4) (46.9,-0.44) (46.79,-0.28) (46.67,-0.11) (46.48,0.005) (46.24,-0.02) (46.01,-0.04) (45.63,-0.02) (45.32,-0.01) (45.02,0.0) (44.91,0.06) (44.75,0.15) (44.63,0.13) (44.52,0.16) (44.41,0.13) (44.29,0.19) (44.14,0.18) (43.99,0.14) (43.87,0.07) (43.76,0.07) (43.56,0.11) (43.33,0.09) (42.76,0.1) (42.57,0.18) (42.46,0.22) (42.34,0.2) (42.11,0.24) (41.96,0.21) (41.81,0.14) (41.65,0.08) (41.54,0.09) (41.42,0.16) (41.19,0.15) (40.89,0.17) (40.43,0.18) (40.0,0.22) (39.83,0.25) (39.61,0.11) (39.42,-0.14) (39.32,-0.35) (39.22,-0.34) (39.09,-0.38) (38.93,-0.44) (38.74,-0.47) (38.64,-0.36) (38.51,-0.35) (38.41,-0.25) (38.29,-0.2) (38.16,-0.16) (38.03,-0.01) (37.9,0.08) (37.74,0.15) (37.54,0.22) (37.38,0.15) (37.22,0.13) (36.99,0.17) (36.48,0.2) (36.29,0.22) (36.12,0.27) (35.99,0.19) (35.87,0.1) (35.74,-0.05) (35.61,0.08) (35.48,0.16) (35.35,0.13) (35.12,0.32) (35.0,0.32) (34.87,0.28) (34.67,0.21) (34.54,0.22) (34.35,0.27) (34.22,0.3) (34.03,0.3) (33.94,0.3) (33.48,0.31) (32.95,0.33) (32.64,0.36) (32.18,0.38) (31.72,0.4) (31.41,0.43) (31.03,0.45) (30.8,0.46) (30.65,0.5) (30.53,0.48) (30.4,0.35) (30.3,0.43) (30.19,0.37) (30.04,0.26) (29.88,0.21) (29.81,0.02) (29.73,-0.17) (29.61,-0.21) (29.5,-0.23) (29.38,-0.04) (29.27,0.18) (29.12,0.26) (28.97,0.43) (28.77,0.52) (28.62,0.59) (28.43,0.59) (28.24,0.53) (28.08,0.48) (28.0,0.48)
};
\node[font=\fontsize{11.5}{12}\selectfont] at (axis description cs:0.025,0.93) {C};
\end{axis}
\pgfresetboundingbox
\path[use as bounding box] (0,0) rectangle (609.5pt,540.5pt);
\end{tikzpicture}
\end{document}
